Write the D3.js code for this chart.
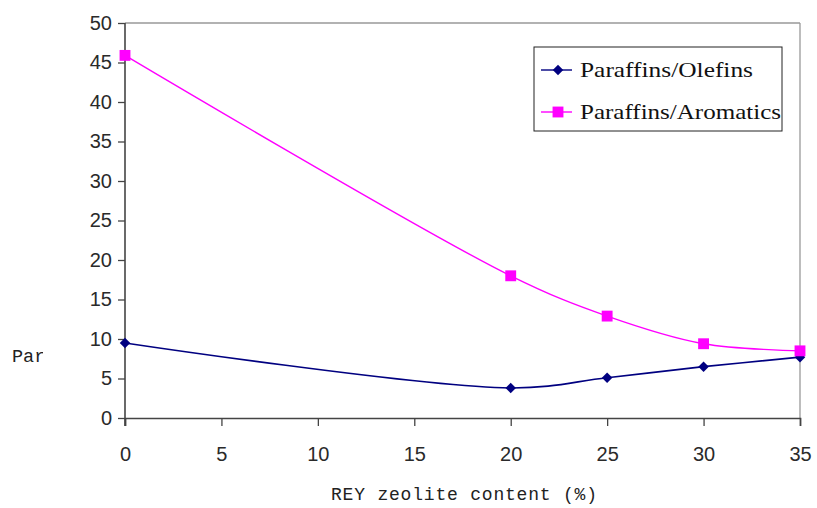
<!DOCTYPE html>
<html>
<head>
<meta charset="utf-8">
<script src="https://cdn.jsdelivr.net/npm/d3@7"></script>
<style>
  html, body { margin: 0; padding: 0; background: #fff; }
  svg { display: block; }
</style>
</head>
<body>
<svg id="chart" width="817" height="508"></svg>
<script>
// REY zeolite content (%) on the x axis
const zeolite = [0, 20, 25, 30, 35];
// Ratio series
const paraffinsOlefins = [9.5, 3.8, 5.1, 6.5, 7.7];
const paraffinsAromatics = [45.9, 18.0, 12.9, 9.4, 8.5];
// Axis ticks
const xTicks = [0, 5, 10, 15, 20, 25, 30, 35];
const yTicks = [0, 5, 10, 15, 20, 25, 30, 35, 40, 45, 50];
const seriesNames = ["Paraffins/Olefins", "Paraffins/Aromatics"];

const svg = d3.select("#chart");
const plotLeft = 125, plotRight = 800, plotTop = 23, plotBottom = 418;

const x = d3.scaleLinear().domain([0, 35]).range([plotLeft, plotRight]);
const y = d3.scaleLinear().domain([0, 50]).range([plotBottom, plotTop]);

// Plot frame: grey top and right edges
svg.append("line").attr("x1", plotLeft).attr("x2", plotRight).attr("y1", plotTop).attr("y2", plotTop)
  .attr("stroke", "#999").attr("stroke-width", 1.3);
svg.append("line").attr("x1", plotRight).attr("x2", plotRight).attr("y1", plotTop).attr("y2", plotBottom)
  .attr("stroke", "#999").attr("stroke-width", 1.3);

// Axes
const yAxis = d3.axisLeft(y).tickValues(yTicks).tickSize(7).tickPadding(6);
const xAxis = d3.axisBottom(x).tickValues(xTicks).tickSize(8).tickPadding(21);

const gy = svg.append("g").attr("transform", `translate(${plotLeft},0)`).call(yAxis);
const gx = svg.append("g").attr("transform", `translate(0,${plotBottom})`).call(xAxis);
[gx, gy].forEach(g => {
  g.select(".domain").attr("stroke", "#444").attr("stroke-width", 1.6);
  g.selectAll(".tick line").attr("stroke", "#444").attr("stroke-width", 1.3);
  g.selectAll(".tick text")
    .attr("font-family", "'Liberation Sans', Arial, sans-serif")
    .attr("font-size", 20)
    .attr("fill", "#2a2a2a");
});
gy.select(".domain").attr("d", `M0,${plotBottom + 8}V${plotTop}`);

// Smoothed series lines
const line = d3.line()
  .x((d, i) => x(zeolite[i]))
  .y(d => y(d))
  .curve(d3.curveCatmullRom.alpha(0.5));

svg.append("path").datum(paraffinsAromatics)
  .attr("d", line).attr("fill", "none").attr("stroke", "#ff00ff").attr("stroke-width", 1.4);
svg.append("path").datum(paraffinsOlefins)
  .attr("d", line).attr("fill", "none").attr("stroke", "#000080").attr("stroke-width", 1.6);

const diamond = d3.symbol().type(d3.symbolDiamond2).size(70);
const square = d3.symbol().type(d3.symbolSquare).size(118);

svg.append("g").selectAll("path").data(paraffinsOlefins).join("path")
  .attr("d", diamond)
  .attr("transform", (d, i) => `translate(${x(zeolite[i])},${y(d)})`)
  .attr("fill", "#000080");
svg.append("g").selectAll("path").data(paraffinsAromatics).join("path")
  .attr("d", square)
  .attr("transform", (d, i) => `translate(${x(zeolite[i])},${y(d)})`)
  .attr("fill", "#ff00ff");

// Legend
const lg = svg.append("g");
lg.append("rect").attr("x", 534).attr("y", 47).attr("width", 248).attr("height", 84)
  .attr("fill", "#fff").attr("stroke", "#222").attr("stroke-width", 1);
const legendRows = [
  { name: seriesNames[0], color: "#000080", sym: diamond, y: 70, w: 173 },
  { name: seriesNames[1], color: "#ff00ff", sym: square, y: 112, w: 201 }
];
legendRows.forEach(r => {
  lg.append("line").attr("x1", 541).attr("x2", 572).attr("y1", r.y).attr("y2", r.y)
    .attr("stroke", r.color).attr("stroke-width", 1.4);
  lg.append("path").attr("d", r.sym).attr("transform", `translate(558,${r.y})`).attr("fill", r.color);
  lg.append("text").attr("x", 580).attr("y", r.y + 7)
    .attr("font-family", "'Liberation Serif', 'Times New Roman', serif")
    .attr("font-size", 21).attr("fill", "#111")
    .attr("textLength", r.w).attr("lengthAdjust", "spacingAndGlyphs")
    .text(r.name);
});

// Axis titles
svg.append("text").attr("x", 464).attr("y", 500).attr("text-anchor", "middle")
  .attr("font-family", "'Liberation Mono', 'Courier New', monospace")
  .attr("font-size", 18).attr("fill", "#222")
  .attr("textLength", 266).attr("lengthAdjust", "spacing")
  .text("REY zeolite content (%)");

// Y title, cut off at the left edge of the chart area
svg.append("clipPath").attr("id", "ytitle-clip")
  .append("rect").attr("x", 0).attr("y", 330).attr("width", 43).attr("height", 40);
svg.append("text").attr("x", 12).attr("y", 362)
  .attr("clip-path", "url(#ytitle-clip)")
  .attr("font-family", "'Liberation Mono', 'Courier New', monospace")
  .attr("font-size", 18.5).attr("fill", "#222")
  .text("Par");
</script>
</body>
</html>
